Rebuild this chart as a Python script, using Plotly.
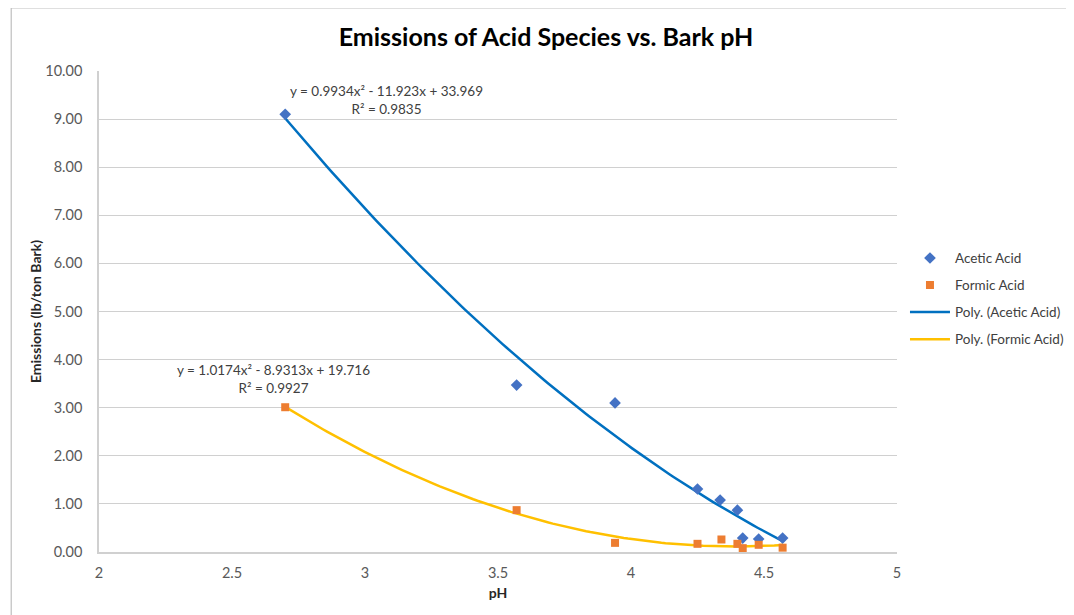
import numpy as np
import plotly.graph_objects as go

# Data
acetic_ph = [2.70, 3.57, 3.94, 4.25, 4.335, 4.40, 4.42, 4.48, 4.57]
acetic_em = [9.10, 3.47, 3.10, 1.31, 1.08, 0.87, 0.29, 0.27, 0.29]
formic_ph = [2.70, 3.57, 3.94, 4.25, 4.34, 4.40, 4.42, 4.48, 4.57]
formic_em = [3.01, 0.87, 0.19, 0.17, 0.26, 0.17, 0.08, 0.15, 0.09]

# Trendline coefficients shown on the chart (a*x^2 + b*x + c)
acetic_coef = [0.9934, -11.923, 33.969]
formic_coef = [1.0174, -8.9313, 19.716]
acetic_eq = "y = 0.9934x² - 11.923x + 33.969<br>R² = 0.9835"
formic_eq = "y = 1.0174x² - 8.9313x + 19.716<br>R² = 0.9927"

x_ticks = [2, 2.5, 3, 3.5, 4, 4.5, 5]
y_ticks = [0, 1, 2, 3, 4, 5, 6, 7, 8, 9, 10]

FONT = "Lato, 'Open Sans', sans-serif"
GRAY = "#595959"

xa = np.linspace(min(acetic_ph), max(acetic_ph), 120)
xf = np.linspace(min(formic_ph), max(formic_ph), 120)

fig = go.Figure()
fig.add_trace(go.Scatter(x=xa, y=np.polyval(acetic_coef, xa), mode="lines",
                         name="Poly. (Acetic Acid)", legendgroup="c", legendrank=3,
                         line=dict(color="#0070C0", width=2.5)))
fig.add_trace(go.Scatter(x=xf, y=np.polyval(formic_coef, xf), mode="lines",
                         name="Poly. (Formic Acid)", legendgroup="d", legendrank=4,
                         line=dict(color="#FFC000", width=2.5)))
fig.add_trace(go.Scatter(x=acetic_ph, y=acetic_em, mode="markers", name="Acetic Acid",
                         legendgroup="a", legendrank=1,
                         marker=dict(symbol="diamond", size=9, color="#4472C4")))
fig.add_trace(go.Scatter(x=formic_ph, y=formic_em, mode="markers", name="Formic Acid",
                         legendgroup="b", legendrank=2,
                         marker=dict(symbol="square", size=8, color="#ED7D31")))

fig.update_layout(
    width=1074, height=615,
    margin=dict(l=91, r=185, t=63, b=71, autoexpand=False),
    paper_bgcolor="white", plot_bgcolor="white",
    font=dict(family=FONT, color=GRAY, size=14),
    title=dict(text="<b>Emissions of Acid Species vs. Bark pH</b>", x=0.501, xanchor="center",
               y=0.953, yanchor="middle", font=dict(family=FONT, size=25, color="black")),
    showlegend=True,
    legend=dict(x=1.010, y=0.643, xanchor="left", yanchor="top", tracegroupgap=6.5,
                font=dict(family=FONT, size=13.5, color="#404040"), itemwidth=40,
                bgcolor="rgba(0,0,0,0)"),
    xaxis=dict(range=[2, 5], tickvals=x_ticks, ticktext=[f"{v:g}" for v in x_ticks],
               showgrid=False, zeroline=False, showline=True, linecolor="#d0d0d0", linewidth=1.5,
               ticks="", tickfont=dict(size=14.5, color=GRAY), automargin=False,
               ticklabelstandoff=7,
               title=dict(text="<b>pH</b>", font=dict(size=14, color="#262626"), standoff=8)),
    yaxis=dict(range=[0, 10], tickvals=y_ticks, tickformat=".2f",
               showgrid=True, gridcolor="#d0d0d0", gridwidth=1.2, zeroline=False,
               showline=True, linecolor="#d0d0d0", linewidth=1.5, ticks="",
               tickfont=dict(size=14.5, color=GRAY), ticklabelstandoff=12, automargin=False,
               title=dict(text="<b>Emissions (lb/ton Bark)</b>", font=dict(size=14, color="#262626"),
                          standoff=0)),
    shapes=[dict(type="rect", xref="paper", yref="paper", x0=-0.110, x1=1.25, y0=-0.16, y1=1.131,
                 line=dict(color="#bfbfbf", width=1.2), fillcolor="rgba(0,0,0,0)", layer="below")],
    annotations=[
        dict(text=acetic_eq, x=3.08, y=9.0, xref="x", yref="y", showarrow=False,
             font=dict(family=FONT, size=13.5, color="#404040"), align="center", yanchor="bottom"),
        dict(text=formic_eq, x=2.655, y=3.2, xref="x", yref="y", showarrow=False,
             font=dict(family=FONT, size=13.5, color="#404040"), align="center", yanchor="bottom"),
    ],
)

fig.write_html("out.html")
